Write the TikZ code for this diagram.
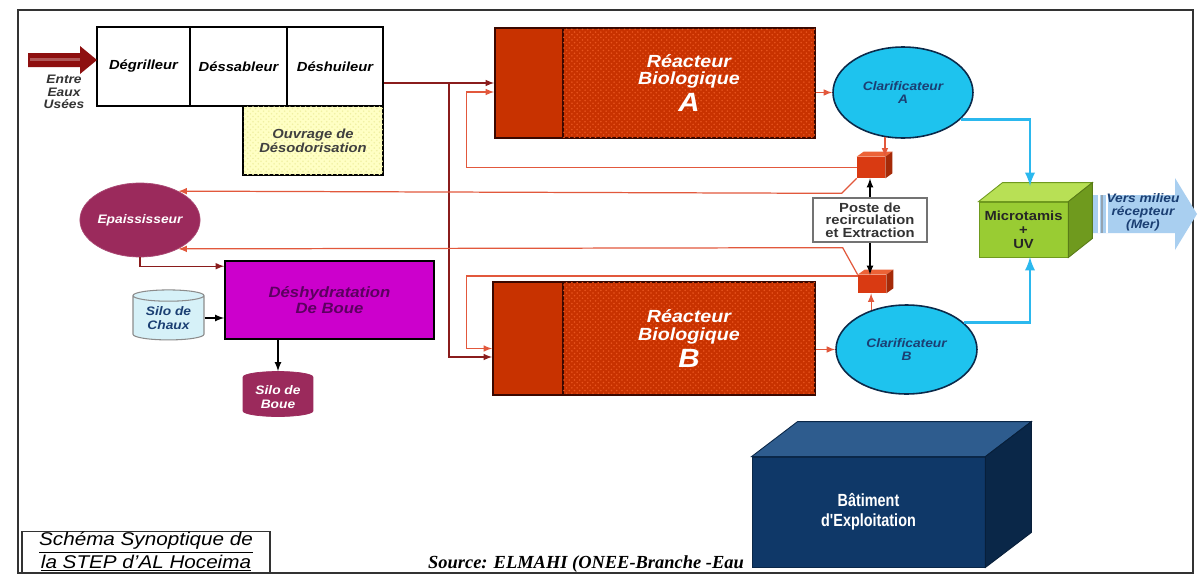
\documentclass[tikz,border=0pt]{standalone}
\usepackage{fontspec}
\setmainfont{Liberation Sans}[FakeStretch=1.12]
\newfontfamily\srcfont{Liberation Serif}
\newfontfamily\narrowfont{Liberation Sans}[FakeStretch=0.82]
\usetikzlibrary{shapes.geometric,calc,patterns}
\definecolor{reacred}{HTML}{C83200}
\definecolor{reacdot}{HTML}{E8541E}
\definecolor{reacedge}{HTML}{3A0800}
\definecolor{clarblue}{HTML}{1EC3EE}
\definecolor{claredge}{HTML}{0B2A4A}
\definecolor{clartxt}{HTML}{1B3F73}
\definecolor{boue}{HTML}{9B2A5C}
\definecolor{magen}{HTML}{CC00CC}
\definecolor{magtxt}{HTML}{5C0060}
\definecolor{chaux}{HTML}{D6F1F8}
\definecolor{odor}{HTML}{FFFFC4}
\definecolor{feedred}{HTML}{8A1C1C}
\definecolor{retred}{HTML}{E2583C}
\definecolor{cyanline}{HTML}{2BB8EE}
\definecolor{microfront}{HTML}{99CC33}
\definecolor{microtop}{HTML}{B8E055}
\definecolor{microside}{HTML}{6F9A1E}
\definecolor{outblue}{HTML}{A9CFF0}
\definecolor{batfront}{HTML}{0F3868}
\definecolor{battop}{HTML}{2E5C8E}
\definecolor{batside}{HTML}{0A2748}
\definecolor{cubered}{HTML}{D93A12}
\definecolor{cubetop}{HTML}{EC6236}
\definecolor{cubeside}{HTML}{A52A08}
\definecolor{inletred}{HTML}{8E1010}

\begin{document}
\begin{tikzpicture}[x=0.02cm,y=-0.02cm,>=latex,
  box/.style={draw=black,line width=0.9pt,inner sep=0pt,align=center,font=\fontsize{7.5}{8}\selectfont\bfseries\itshape},
  reac/.style={draw=reacedge,line width=1pt,fill=reacred,inner sep=0pt,minimum height=2.2cm},
  reactxt/.style={text=white,align=center,font=\fontsize{10}{10}\selectfont\bfseries\itshape},
  clar/.style={ellipse,draw=claredge,line width=0.9pt,fill=clarblue,inner sep=0pt,text=clartxt,align=center,font=\fontsize{7}{7.5}\selectfont\bfseries\itshape},
  cube/.style={fill=cubered,inner sep=0pt,minimum width=0.56cm},
  silo/.style={cylinder,shape border rotate=90,aspect=0.25,inner sep=0pt,align=center,font=\fontsize{7}{8}\selectfont\bfseries\itshape},
  feed/.style={feedred,line width=0.7pt},
  ret/.style={retred,line width=0.7pt},
  cy/.style={cyanline,line width=1.6pt},
  blk/.style={black,line width=0.8pt}]

\useasboundingbox (0,0) rectangle (1198,575);
\fill[white] (0,0) rectangle (1198,575);
\draw[line width=1pt,black!80] (18,10) rectangle (1193,573);

\node[box,minimum width=1.86cm,minimum height=1.58cm] (degr) at (143.5,66.5) {Dégrilleur};
\node[box,minimum width=1.94cm,minimum height=1.58cm] (dess) at (238.5,66.5) {Déssableur};
\node[box,minimum width=1.92cm,minimum height=1.58cm] (desh) at (335,66.5) {Déshuileur};
\node[box,fill=odor,postaction={pattern=crosshatch dots,pattern color=yellow!60!olive!30},text=black!75,minimum width=2.8cm,minimum height=1.38cm] (odor) at (313,140.5) {Ouvrage de\\Désodorisation};

\fill[inletred] (28,53) -- (80,53) -- (80,46) -- (97,60) -- (80,74) -- (80,67) -- (28,67) -- cycle;
\fill[inletred!70!white] (30,58) rectangle (80,61);
\node[align=center,text=black!80,font=\fontsize{7}{7}\selectfont\bfseries\itshape] (entre) at (64,92) {Entre\\Eaux\\Usées};

\node[reac,minimum width=1.36cm] (reacAl) at (529,83) {};
\node[reac,reactxt,minimum width=5.04cm,postaction={pattern=crosshatch dots,pattern color=reacdot}] (reacA) at (689,83) {Réacteur\\Biologique\\[2pt]{\fontsize{15}{15}\selectfont A}};
\node[reac,minimum width=1.4cm,minimum height=2.26cm] (reacBl) at (528,338.5) {};
\node[reac,reactxt,minimum width=5.04cm,minimum height=2.26cm,postaction={pattern=crosshatch dots,pattern color=reacdot}] (reacB) at (689,338.5) {Réacteur\\Biologique\\[2pt]{\fontsize{15}{15}\selectfont B}};

\node[clar,minimum width=2.8cm,minimum height=1.82cm] (clarA) at (903,92.5) {Clarificateur\\A};
\node[clar,minimum width=2.82cm,minimum height=1.78cm] (clarB) at (906.5,349.5) {Clarificateur\\B};

\node[cube,minimum height=0.42cm] (cubeA) at (871,167.5) {};
\fill[cubetop] (cubeA.north west) -- ++(7,-5) -- ($(cubeA.north east)+(7,-5)$) -- (cubeA.north east) -- cycle;
\fill[cubeside] (cubeA.north east) -- ++(7,-5) -- ($(cubeA.south east)+(7,-5)$) -- (cubeA.south east) -- cycle;
\node[cube,minimum height=0.36cm] (cubeB) at (872,284) {};
\fill[cubetop] (cubeB.north west) -- ++(7,-5) -- ($(cubeB.north east)+(7,-5)$) -- (cubeB.north east) -- cycle;
\fill[cubeside] (cubeB.north east) -- ++(7,-5) -- ($(cubeB.south east)+(7,-5)$) -- (cubeB.south east) -- cycle;

\node[draw=black!55,line width=0.9pt,fill=white,inner sep=0pt,align=center,text=black!80,font=\fontsize{7.5}{7}\selectfont\bfseries,minimum width=2.28cm,minimum height=0.88cm] (poste) at (870,220) {Poste de\\recirculation\\et Extraction};

\node[fill=microfront,draw=microside,line width=0.5pt,inner sep=0pt,align=center,text=black!85,font=\fontsize{7.5}{8}\selectfont\bfseries,minimum width=1.78cm,minimum height=1.1cm] (micro) at (1023.5,229.5) {Microtamis\\+\\UV};
\fill[microtop,draw=microside,line width=0.5pt] (micro.north west) -- ++(24,-19) -- ($(micro.north east)+(24,-19)$) -- (micro.north east) -- cycle;
\fill[microside,draw=microside!80!black,line width=0.5pt] (micro.north east) -- ++(24,-19) -- ($(micro.south east)+(24,-19)$) -- (micro.south east) -- cycle;

\fill[outblue] (1093,195) -- (1175,195) -- (1175,178) -- (1197,214) -- (1175,250) -- (1175,233) -- (1093,233) -- cycle;
\fill[white] (1098,195) rectangle (1100,233);
\fill[outblue!60!black!70] (1101,195) rectangle (1103,233);
\fill[white] (1106,195) rectangle (1108,233);
\node[align=center,text=clartxt,font=\fontsize{7}{7.5}\selectfont\bfseries\itshape] (outtxt) at (1143,212) {Vers milieu\\récepteur\\(Mer)};

\node[ellipse,fill=boue,draw=boue!85!white,inner sep=0pt,text=white,font=\fontsize{7}{8}\selectfont\bfseries\itshape,minimum width=2.12cm,minimum height=1.48cm] (epais) at (140,220) {Epaississeur};
\node[box,fill=magen,text=magtxt,font=\fontsize{8.5}{9}\selectfont\bfseries\itshape,minimum width=4.18cm,minimum height=1.56cm] (deshyd) at (329.5,300) {Déshydratation\\De Boue};
\node[silo,fill=chaux,draw=black!45,line width=0.6pt,text=clartxt,minimum width=1.42cm,minimum height=1.0cm] (chaux) at (168.5,318) {Silo de\\Chaux};
\node[silo,fill=boue,draw=boue,text=white,minimum width=1.4cm,minimum height=0.9cm] (silob) at (278,397) {Silo de\\Boue};

\node[fill=batfront,draw=batside,line width=0.5pt,inner sep=0pt,align=center,text=white,font=\narrowfont\fontsize{10}{11.5}\selectfont\bfseries,minimum width=4.66cm,minimum height=2.2cm] (bat) at (868.5,512) {Bâtiment\\d'Exploitation};
\fill[battop,draw=batside,line width=0.5pt] (bat.north west) -- ++(46,-35) -- ($(bat.north east)+(46,-35)$) -- (bat.north east) -- cycle;
\fill[batside,draw=batside!80!black,line width=0.5pt] (bat.north east) -- ++(46,-35) -- ($(bat.south east)+(46,-35)$) -- (bat.south east) -- cycle;

\node[draw=black!80,line width=1pt,fill=white,inner sep=0pt,align=center,font=\fontsize{10.5}{10.5}\selectfont\itshape,minimum width=4.96cm,minimum height=0.82cm] (titre) at (146,552) {\underline{Schéma Synoptique de}\\\underline{la STEP d'AL Hoceima}};
\node[font=\srcfont\fontsize{10.5}{10.5}\selectfont\bfseries\itshape] (src) at (586,564) {Source: ELMAHI (ONEE-Branche -Eau};

\coordinate (split) at (449,83);
\coordinate (mtop) at (1030,186);
\coordinate (mbot) at (1030,257);
\draw[feed,->] (desh.east |- reacAl.west) -- (reacAl.west);
\draw[feed,->] (split) |- ($(reacBl.west)+(0,18.5)$);
\draw[ret,->] (cubeA.west) -| ($(reacAl.west)+(-28,9)$) -- ($(reacAl.west)+(0,9)$);
\draw[ret,->] ($(cubeB.west)+(0,-8)$) -| ($(reacBl.west)+(-26,10)$) -- ($(reacBl.west)+(0,10)$);
\draw[ret,->] (cubeA.south west) -- ++(-15,15) -- (epais.37);
\draw[ret,->] (cubeB.north west) -- ++(-15,-27) -- (epais.-37);
\draw[ret,->] (clarA.-112) -- (clarA.-112 |- cubeA.north);
\draw[ret,->] (clarB.132) -- (clarB.132 |- cubeB.south);
\draw[ret,->] (reacA.east |- clarA.west) -- (clarA.west);
\draw[ret,->] (reacB.east |- clarB.west) -- (clarB.west);
\draw[blk,->] (poste.north) -- (poste.north |- cubeA.south);
\draw[blk,->] (poste.south) -- (poste.south |- cubeB.north);
\draw[cy,->] (clarA.-25) -| (mtop);
\draw[cy,->] (clarB.25) -| (mbot);
\draw[feed,->] (epais.south) |- ($(deshyd.north west)+(0,6)$);
\draw[blk,->] (chaux.east) -- (chaux.east -| deshyd.west);
\draw[blk,->] (silob.north |- deshyd.south) -- (silob.north);
\end{tikzpicture}
\end{document}
